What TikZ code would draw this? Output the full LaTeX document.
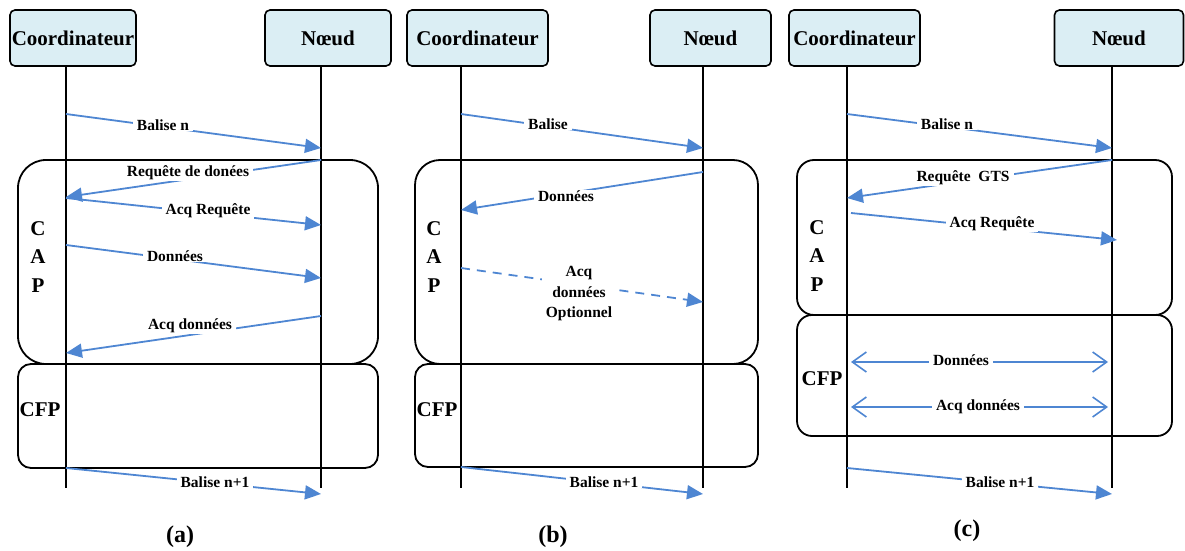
\documentclass[tikz,border=0pt]{standalone}
\usepackage{fontspec}
\setmainfont{Liberation Serif}
\usetikzlibrary{arrows.meta}
\definecolor{hdrblue}{RGB}{219,238,244}
\definecolor{msgblue}{RGB}{78,134,210}
\tikzset{
  hdr/.style={draw=black, line width=1.6pt, fill=hdrblue, rounded corners=5pt,
    minimum height=56pt, inner sep=0pt, font=\bfseries\fontsize{21}{24}\selectfont},
  life/.style={draw=black, line width=1.6pt},
  phasebox/.style={draw=black, line width=1.8pt},
  msg/.style={draw=msgblue, line width=1.8pt, -{Triangle[length=16pt,width=14pt]}},
  dmsg/.style={msg, dash pattern=on 9pt off 7pt},
  twoway/.style={draw=msgblue, line width=1.6pt,
    {Straight Barb[length=14pt,width=20pt,line width=1.6pt]}-{Straight Barb[length=14pt,width=20pt,line width=1.6pt]}},
  lbl/.style={fill=white, inner xsep=4pt, inner ysep=1pt, font=\bfseries\fontsize{15.5}{20.5}\selectfont},
  phase/.style={align=center, inner sep=0pt, font=\bfseries\fontsize{21}{28.5}\selectfont},
  caption/.style={font=\bfseries\fontsize{24}{28}\selectfont}
}
\begin{document}
\begin{tikzpicture}[x=1pt,y=-1pt]
\useasboundingbox (0,0) rectangle (1185,551);

% ---------------- (a) ----------------
\draw[phasebox, rounded corners=28pt] (18,160) rectangle (378,364);
\draw[phasebox, rounded corners=13pt] (18,364) rectangle (378,468);
\node[hdr, minimum width=126pt] (aC) at (73,38) {Coordinateur};
\node[hdr, minimum width=126pt] (aN) at (328,38) {Nœud};
\coordinate (aCtop) at (66,66);  \coordinate (aCbot) at (66,488);
\coordinate (aNtop) at (321,66); \coordinate (aNbot) at (321,488);
\draw[life] (aCtop) -- (aCbot);
\draw[life] (aNtop) -- (aNbot);
\node[phase] (aCAP) at (38,257) {C\\A\\P};
\node[phase] (aCFP) at (40,410) {CFP};

\coordinate (a1s) at (66,114);  \coordinate (a1e) at (321,148);
\coordinate (a2s) at (321,160); \coordinate (a2e) at (66,197);
\coordinate (a3s) at (66,198);  \coordinate (a3e) at (321,225);
\coordinate (a4s) at (66,245);  \coordinate (a4e) at (321,278);
\coordinate (a5s) at (321,316); \coordinate (a5e) at (66,353);
\coordinate (a6s) at (66,468);  \coordinate (a6e) at (321,494);
\draw[msg] (a1s) -- (a1e);
\draw[msg] (a2s) -- (a2e);
\draw[msg] (a3s) -- (a3e);
\draw[msg] (a4s) -- (a4e);
\draw[msg] (a5s) -- (a5e);
\draw[msg] (a6s) -- (a6e);
\node[lbl] (a1l) at (163,125) {Balise n};
\node[lbl] (a2l) at (188,173) {Requête de donées};
\node[lbl] (a3l) at (208,211) {Acq Requête};
\node[lbl] (a4l) at (175,256) {Données};
\node[lbl] (a5l) at (190,326) {Acq données};
\node[lbl] (a6l) at (215,482) {Balise n+1};
\node[caption] (acap) at (180,537) {(a)};

% ---------------- (b) ----------------
\draw[phasebox, rounded corners=25pt] (415,160) rectangle (758,364);
\draw[phasebox, rounded corners=13pt] (415,364) rectangle (758,467);
\node[hdr, minimum width=141pt] (bC) at (477.5,38) {Coordinateur};
\node[hdr, minimum width=121pt] (bN) at (710.5,38) {Nœud};
\coordinate (bCtop) at (461,66); \coordinate (bCbot) at (461,488);
\coordinate (bNtop) at (703,66); \coordinate (bNbot) at (703,488);
\draw[life] (bCtop) -- (bCbot);
\draw[life] (bNtop) -- (bNbot);
\node[phase] (bCAP) at (434,257) {C\\A\\P};
\node[phase] (bCFP) at (437,410) {CFP};

\coordinate (b1s) at (461,114); \coordinate (b1e) at (703,148);
\coordinate (b2s) at (703,172); \coordinate (b2e) at (461,210);
\coordinate (b3s) at (461,268); \coordinate (b3e) at (703,302);
\coordinate (b4s) at (461,467); \coordinate (b4e) at (703,494);
\draw[msg] (b1s) -- (b1e);
\draw[msg] (b2s) -- (b2e);
\draw[dmsg] (b3s) -- (b3e);
\draw[msg] (b4s) -- (b4e);
\node[lbl] (b1l) at (548,124) {Balise};
\node[lbl] (b2l) at (566,196) {Données};
\node[lbl, align=center] (b3l) at (579,294) {Acq\\données\\Optionnel};
\node[lbl] (b4l) at (604,482) {Balise n+1};
\node[caption] (bcap) at (553,537) {(b)};

% ---------------- (c) ----------------
\draw[phasebox, rounded corners=17pt] (797,160) rectangle (1172,315);
\draw[phasebox, rounded corners=15pt] (797,315) rectangle (1172,436);
\node[hdr, minimum width=131pt] (cC) at (854.5,38) {Coordinateur};
\node[hdr, minimum width=129pt] (cN) at (1119,38) {Nœud};
\coordinate (cCtop) at (847,66);  \coordinate (cCbot) at (847,488);
\coordinate (cNtop) at (1112,66); \coordinate (cNbot) at (1112,488);
\draw[life] (cCtop) -- (cCbot);
\draw[life] (cNtop) -- (cNbot);
\node[phase] (cCAP) at (817,256) {C\\A\\P};
\node[phase] (cCFP) at (822,379) {CFP};

\coordinate (c1s) at (847,114);  \coordinate (c1e) at (1112,148);
\coordinate (c2s) at (1112,160); \coordinate (c2e) at (847,198);
\coordinate (c3s) at (851,213);  \coordinate (c3e) at (1117,240);
\coordinate (c4s) at (851,362);  \coordinate (c4e) at (1108,362);
\coordinate (c5s) at (851,407);  \coordinate (c5e) at (1108,407);
\coordinate (c6s) at (847,468);  \coordinate (c6e) at (1112,494);
\draw[msg] (c1s) -- (c1e);
\draw[msg] (c2s) -- (c2e);
\draw[msg] (c3s) -- (c3e);
\draw[twoway] (c4s) -- (c4e);
\draw[twoway] (c5s) -- (c5e);
\draw[msg] (c6s) -- (c6e);
\node[lbl] (c1l) at (947,124) {Balise n};
\node[lbl] (c2l) at (963,178) {Requête\ \ GTS};
\node[lbl] (c3l) at (992,224) {Acq Requête};
\node[lbl] (c4l) at (961,360) {Données};
\node[lbl] (c5l) at (978,407) {Acq données};
\node[lbl] (c6l) at (1000,482) {Balise n+1};
\node[caption] (ccap) at (967,531) {(c)};
\end{tikzpicture}
\end{document}
